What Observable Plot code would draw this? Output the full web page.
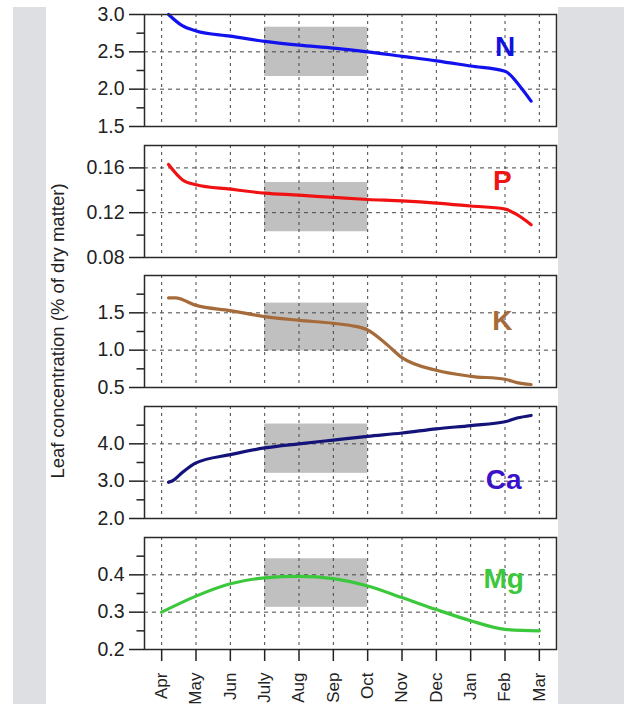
<!DOCTYPE html>
<html>
<head>
<meta charset="utf-8">
<script src="https://cdn.jsdelivr.net/npm/d3@7"></script>
<script src="https://cdn.jsdelivr.net/npm/@observablehq/plot@0.6"></script>
<style>
html, body { margin: 0; padding: 0; background: #fff; width: 624px; height: 704px; overflow: hidden; }
#root { position: relative; width: 624px; height: 704px; font-family: "Liberation Sans", Arial, sans-serif; overflow: hidden; }
.band { position: absolute; background: #dedfe2; }
.panel { position: absolute; left: 0; }
#ytitle { position: absolute; left: 58px; top: 331px; transform: translate(-50%, -50%) rotate(-90deg); white-space: nowrap; font-size: 18.5px; color: #222; }
</style>
</head>
<body>
<div id="root">
  <div class="band" style="left:13px; top:7px; width:33px; height:697px;"></div>
  <div class="band" style="left:558px; top:7px; width:66px; height:697px;"></div>
  <div id="ytitle">Leaf concentration (% of dry matter)</div>
</div>
<script>
// ---- data ----
const months = ["Apr", "May", "Jun", "July", "Aug", "Sep", "Oct", "Nov", "Dec", "Jan", "Feb", "Mar"];
// [months after early April (0 = Apr), concentration %]
const nitrogen   = [[0.2, 3.0], [0.6, 2.85], [1, 2.78], [2, 2.71], [3, 2.64], [4, 2.59], [5, 2.55], [6, 2.50], [7, 2.44], [8, 2.38], [9, 2.31], [10, 2.24], [10.45, 2.03], [10.76, 1.84]];
const phosphorus = [[0.2, 0.163], [0.62, 0.149], [1, 0.145], [2, 0.141], [3, 0.1375], [4, 0.1357], [5, 0.1336], [6, 0.1318], [7, 0.1305], [8, 0.1286], [9, 0.126], [10, 0.1233], [10.35, 0.1182], [10.76, 0.1093]];
const potassium  = [[0.2, 1.70], [0.4, 1.70], [1, 1.60], [2, 1.53], [3, 1.45], [4, 1.40], [5, 1.36], [5.5, 1.33], [6, 1.27], [6.5, 1.10], [7, 0.90], [8, 0.73], [9, 0.65], [10, 0.61], [10.35, 0.565], [10.76, 0.54]];
const calcium    = [[0.2, 2.97], [0.35, 3.03], [0.6, 3.23], [1, 3.49], [2, 3.71], [3, 3.89], [4, 4.0], [5, 4.10], [6, 4.20], [7, 4.29], [8, 4.40], [9, 4.49], [10, 4.59], [10.35, 4.69], [10.76, 4.76]];
const magnesium  = [[0, 0.30], [1, 0.343], [2, 0.376], [3, 0.392], [4, 0.396], [5, 0.39], [6, 0.37], [7, 0.339], [8, 0.307], [9, 0.277], [10, 0.254], [11, 0.25]];

// optimum (shaded) ranges, July to Oct
const optimumMonths = ["July", "Oct"];
const nRange  = [2.17, 2.83];
const pRange  = [0.103, 0.147];
const kRange  = [0.99, 1.63];
const caRange = [3.21, 4.53];
const mgRange = [0.313, 0.443];

// axis ticks
const nTicks  = [1.5, 2.0, 2.5, 3.0],   nMinor  = [1.75, 2.25, 2.75],  nGrid  = [2.0, 2.5];
const pTicks  = [0.08, 0.12, 0.16],     pMinor  = [0.10, 0.14],        pGrid  = [0.12, 0.16];
const kTicks  = [0.5, 1.0, 1.5],        kMinor  = [0.75, 1.25, 1.75],  kGrid  = [1.0, 1.5];
const caTicks = [2.0, 3.0, 4.0],        caMinor = [2.5, 3.5, 4.5],     caGrid = [3.0, 4.0];
const mgTicks = [0.2, 0.3, 0.4],        mgMinor = [0.25, 0.35, 0.45],  mgGrid = [0.3, 0.4];

// ---- panels ----
const monthIdx = months.map((m, i) => i);
const panels = [
  {name: "N",  data: nitrogen,   range: nRange,  domain: [1.5, 3.0],  ticks: nTicks,  minor: nMinor,  grid: nGrid,  fmt: ".1f", line: "#1212ee", labelColor: "#1212e0", labelAt: [10.0, 2.57],   top: 14},
  {name: "P",  data: phosphorus, range: pRange,  domain: [0.08, 0.18], ticks: pTicks, minor: pMinor,  grid: pGrid,  fmt: ".2f", line: "#f01212", labelColor: "#ee1515", labelAt: [9.92, 0.1484], top: 145},
  {name: "K",  data: potassium,  range: kRange,  domain: [0.5, 2.0],  ticks: kTicks,  minor: kMinor,  grid: kGrid,  fmt: ".1f", line: "#a66b3a", labelColor: "#a66b3a", labelAt: [9.92, 1.393],  top: 275},
  {name: "Ca", data: calcium,    range: caRange, domain: [2.0, 5.0],  ticks: caTicks, minor: caMinor, grid: caGrid, fmt: ".1f", line: "#13137a", labelColor: "#3a12c8", labelAt: [9.96, 3.03],   top: 406},
  {name: "Mg", data: magnesium,  range: mgRange, domain: [0.2, 0.5],  ticks: mgTicks, minor: mgMinor, grid: mgGrid, fmt: ".1f", line: "#3cc83c", labelColor: "#3cc83c", labelAt: [9.96, 0.389],  top: 537}
];

const root = document.getElementById("root");
const mt = 12, inner = 112;
panels.forEach((p, k) => {
  const last = k === panels.length - 1;
  const mb = last ? 70 : 12;
  const marks = [
    Plot.rect([{x1: months.indexOf(optimumMonths[0]), x2: months.indexOf(optimumMonths[1]), y1: p.range[0], y2: p.range[1]}],
      {x1: "x1", x2: "x2", y1: "y1", y2: "y2", fill: "#c0c0c0"}),
    Plot.ruleX(monthIdx, {stroke: "#444", strokeWidth: 1, strokeDasharray: "3,4"}),
    Plot.ruleY(p.grid, {stroke: "#444", strokeWidth: 1, strokeDasharray: "4,4"}),
    Plot.line(p.data, {x: d => d[0], y: d => d[1], stroke: p.line, strokeWidth: 3.2, curve: "monotone-x"}),
    Plot.text([{x: p.labelAt[0], y: p.labelAt[1], t: p.name}],
      {x: "x", y: "y", text: "t", fill: p.labelColor, fontSize: 28, fontWeight: "bold"}),
    Plot.axisY({ticks: p.ticks, tickSize: 15, tickPadding: 5, fontSize: 19.5, tickFormat: d3.format(p.fmt), label: null, color: "#222", strokeWidth: 1.5}),
    Plot.axisY({ticks: p.minor, tickSize: 7.5, tickFormat: () => "", label: null, color: "#222", strokeWidth: 1.5}),
    Plot.frame({stroke: "#2a2a2a", strokeWidth: 1.5})
  ];
  if (last) {
    marks.push(Plot.axisX({ticks: monthIdx, tickFormat: i => months[i], tickRotate: -90, tickSize: 12, tickPadding: 11, fontSize: 17, label: null, color: "#222", strokeWidth: 1.5}));
  }
  const chart = Plot.plot({
    width: 624,
    height: mt + inner + mb,
    marginLeft: 144,
    marginRight: 68,
    marginTop: mt,
    marginBottom: mb,
    x: last ? {domain: [-0.5, 11.5], label: null} : {domain: [-0.5, 11.5], axis: null, label: null},
    y: {domain: p.domain, label: null},
    style: {fontFamily: "'Liberation Sans', Arial, sans-serif", background: "transparent", overflow: "visible", color: "#222"},
    marks
  });
  chart.classList.add("panel");
  chart.style.top = (p.top - mt) + "px";
  root.appendChild(chart);
});
</script>
</body>
</html>
